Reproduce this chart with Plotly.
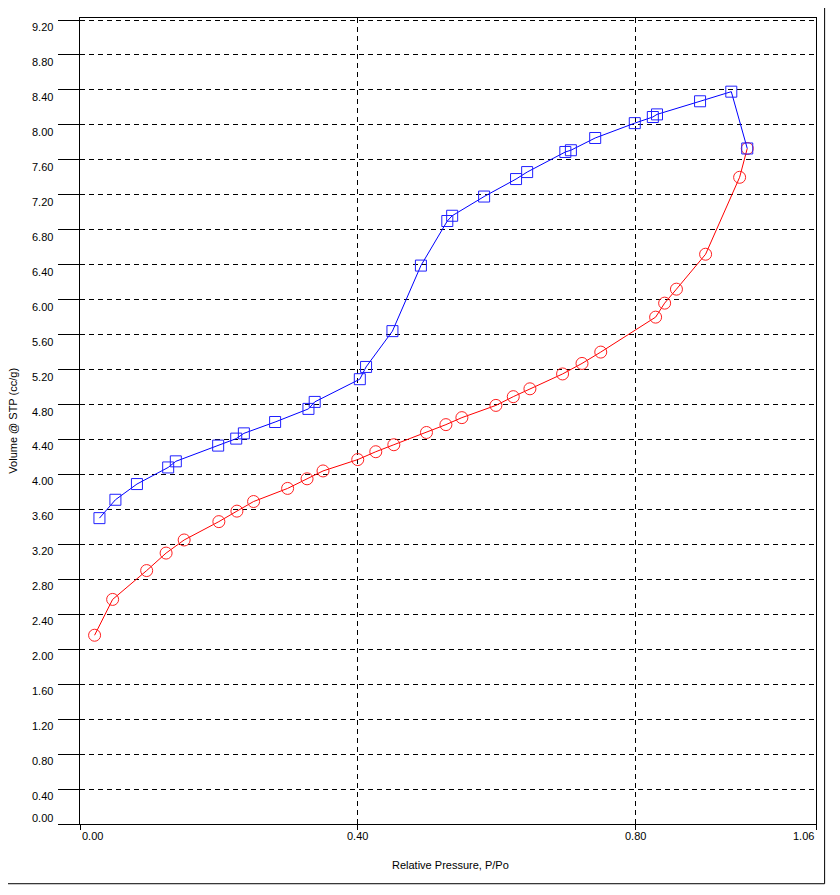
import plotly.graph_objects as go

# Adsorption branch (red circles)
ads_x = [0.021, 0.047, 0.096, 0.124, 0.150, 0.200, 0.226, 0.250, 0.299, 0.327,
         0.350, 0.400, 0.426, 0.452, 0.499, 0.527, 0.550, 0.599, 0.624, 0.648,
         0.695, 0.723, 0.750, 0.829, 0.842, 0.859, 0.901, 0.950, 0.961]
ads_y = [2.16, 2.57, 2.90, 3.10, 3.25, 3.46, 3.58, 3.69, 3.84, 3.95,
         4.04, 4.17, 4.26, 4.34, 4.48, 4.57, 4.65, 4.79, 4.89, 4.98,
         5.15, 5.27, 5.40, 5.80, 5.96, 6.12, 6.52, 7.40, 7.73]

# Desorption branch (blue squares)
des_x = [0.961, 0.938, 0.893, 0.831, 0.825, 0.799, 0.742, 0.707, 0.699, 0.644,
         0.628, 0.582, 0.536, 0.529, 0.491, 0.450, 0.412, 0.403, 0.338, 0.329,
         0.281, 0.236, 0.225, 0.199, 0.138, 0.127, 0.082, 0.051, 0.028]
des_y = [7.73, 8.38, 8.27, 8.12, 8.09, 8.02, 7.85, 7.71, 7.69, 7.46,
         7.38, 7.18, 6.96, 6.90, 6.39, 5.64, 5.23, 5.09, 4.83, 4.75,
         4.60, 4.47, 4.41, 4.33, 4.15, 4.08, 3.89, 3.71, 3.50]

x_ticks = [0.0, 0.40, 0.80, 1.06]
x_tick_text = ['0.00', '0.40', '0.80', '1.06']
y_ticks = [round(0.4 * i, 2) for i in range(24)]
y_tick_text = ['%.2f' % v for v in y_ticks]

x_title = 'Relative Pressure, P/Po'
y_title = 'Volume @ STP (cc/g)'

FONT = 'Liberation Sans, Arial, sans-serif'

fig = go.Figure()

fig.add_trace(go.Scatter(
    x=ads_x, y=ads_y, mode='lines+markers',
    line=dict(color='#ff0000', width=1),
    marker=dict(symbol='circle-open', size=12, color='#ff2020', line=dict(width=1)),
    hoverinfo='skip', showlegend=False,
))
fig.add_trace(go.Scatter(
    x=des_x, y=des_y, mode='lines+markers',
    line=dict(color='#0000ff', width=1),
    marker=dict(symbol='square-open', size=11, color='#2020ff', line=dict(width=1)),
    hoverinfo='skip', showlegend=False,
))

axis_common = dict(
    showline=True, linecolor='black', linewidth=1, mirror=True,
    showgrid=True, gridcolor='black', gridwidth=1, griddash='5px,4px',
    zeroline=False, showticklabels=False,
    ticks='outside', tickcolor='black', tickwidth=1,
)

fig.update_xaxes(range=[0, 1.06], tickvals=x_ticks, ticklen=5, **axis_common)
fig.update_yaxes(range=[0, 9.223], tickvals=y_ticks, ticklen=21, **axis_common)

# tick labels placed like the original software does it
annotations = []
for v, t in zip(x_ticks, x_tick_text):
    anchor = 'left' if v == x_ticks[0] else ('right' if v == x_ticks[-1] else 'center')
    annotations.append(dict(x=v, y=0, xref='x', yref='paper', text=t, showarrow=False,
                            xanchor=anchor, yanchor='top', yshift=-4,
                            font=dict(family=FONT, size=11, color='black')))
for v, t in zip(y_ticks, y_tick_text):
    annotations.append(dict(x=0, y=v, xref='paper', yref='y', text=t, showarrow=False,
                            xanchor='right', yanchor='middle', xshift=-25,
                            yshift=6 if v == 0 else -7,
                            font=dict(family=FONT, size=11, color='black')))

# axis titles
annotations.append(dict(x=0.503, y=-0.051, xref='paper', yref='paper', text=x_title,
                        showarrow=False, xanchor='center', yanchor='middle',
                        font=dict(family=FONT, size=11, color='black')))
annotations.append(dict(x=-0.0915, y=0.5, xref='paper', yref='paper', text=y_title,
                        showarrow=False, textangle=-90, xanchor='center', yanchor='middle',
                        font=dict(family=FONT, size=11, color='black')))

# the page body adds an 8px margin, so the figure is a bit smaller than the window
fig.update_layout(
    width=824, height=879,
    margin=dict(l=72.3, r=16.3, t=10, b=63),
    paper_bgcolor='white', plot_bgcolor='white',
    font=dict(family=FONT, size=11, color='black'),
    annotations=annotations,
    shapes=[
        # outer frame edges (right and bottom)
        dict(type='line', xref='paper', yref='paper', x0=1.0117, x1=1.0117, y0=1.05, y1=-0.0741,
             line=dict(color='black', width=1)),
        dict(type='line', xref='paper', yref='paper', x0=-0.2, x1=1.0117, y0=-0.0741, y1=-0.0741,
             line=dict(color='black', width=1)),
    ],
)

fig.write_html('out.html')
